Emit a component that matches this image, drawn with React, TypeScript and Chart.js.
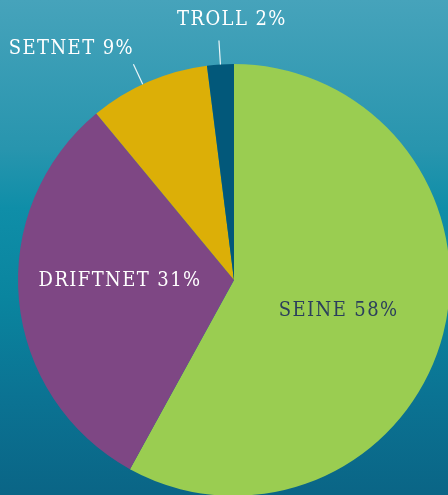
import React, { useEffect, useRef } from "react";
import { Chart, registerables } from "chart.js";

Chart.register(...registerables);

const categories = ["SEINE", "DRIFTNET", "SETNET", "TROLL"];
const shares = [58, 31, 9, 2];
const sliceColors = ["#9acd51", "#7e4784", "#dcaf07", "#02587a"];

// label placement per slice (style/layout, not data)
const labelLayout = [
  { inside: true, frac: 0.5, dx: 0, dy: 4, color: "#2b3f5c", angleAdj: 0, lineLen: 0 },
  { inside: true, frac: 0.53, dx: 0, dy: -10, color: "#ffffff", angleAdj: 0, lineLen: 0 },
  { inside: false, frac: 0, lineLen: 22, dx: -62, dy: -16, color: "#ffffff", angleAdj: -1.6 },
  { inside: false, frac: 0, lineLen: 24, dx: 13, dy: -20.5, color: "#ffffff", angleAdj: 0 },
];

const labelPlugin = {
  id: "sliceLabels",
  afterDatasetsDraw(chart: any) {
    const ctx = chart.ctx as CanvasRenderingContext2D;
    const meta = chart.getDatasetMeta(0);
    meta.data.forEach((arc: any, i: number) => {
      const p = arc.getProps(["x", "y", "startAngle", "endAngle", "outerRadius"], true);
      const cfg = labelLayout[i];
      const mid = (p.startAngle + p.endAngle) / 2 + (cfg.angleAdj * Math.PI) / 180;
      const cos = Math.cos(mid);
      const sin = Math.sin(mid);
      const text = `${categories[i]} ${shares[i]}%`;
      ctx.save();
      ctx.font = '20px "DejaVu Serif"';
      (ctx as any).fontStretch = "condensed";
      (ctx as any).letterSpacing = "1.4px";
      ctx.fillStyle = cfg.color;
      ctx.textAlign = "center";
      ctx.textBaseline = "middle";
      if (cfg.inside) {
        const r = p.outerRadius * cfg.frac;
        ctx.fillText(text, p.x + cos * r + cfg.dx, p.y + sin * r + cfg.dy);
      } else {
        const r0 = p.outerRadius;
        const r1 = p.outerRadius + cfg.lineLen;
        ctx.strokeStyle = "rgba(255,255,255,0.9)";
        ctx.lineWidth = 1.2;
        ctx.beginPath();
        ctx.moveTo(p.x + cos * r0, p.y + sin * r0);
        ctx.lineTo(p.x + cos * r1, p.y + sin * r1);
        ctx.stroke();
        ctx.fillText(text, p.x + cos * r1 + cfg.dx, p.y + sin * r1 + cfg.dy);
      }
      ctx.restore();
    });
  },
};

export default function App() {
  const ref = useRef<HTMLCanvasElement | null>(null);
  useEffect(() => {
    document.body.style.margin = "0";
    const chart = new Chart(ref.current as HTMLCanvasElement, {
      type: "pie",
      data: {
        labels: categories,
        datasets: [
          {
            data: shares,
            backgroundColor: sliceColors,
            borderWidth: 0,
          },
        ],
      },
      options: {
        animation: false,
        responsive: false,
        maintainAspectRatio: false,
        layout: { padding: { left: 18, right: 18, top: 64, bottom: 64 } },
        plugins: {
          legend: { display: false },
          tooltip: { enabled: false },
        },
      },
      plugins: [labelPlugin],
    });
    return () => chart.destroy();
  }, []);
  return (
    <div
      style={{
        position: "relative",
        width: 448,
        height: 495,
        overflow: "hidden",
        background:
          "linear-gradient(180deg, #46a3bb 0%, #2895ae 30%, #0f8ea8 42%, #0a859f 60%, #0b7393 80%, #0a6586 100%)",
      }}
    >
      <canvas
        ref={ref}
        width={468}
        height={560}
        style={{ position: "absolute", left: 0, top: 0, width: 468, height: 560 }}
      />
    </div>
  );
}
